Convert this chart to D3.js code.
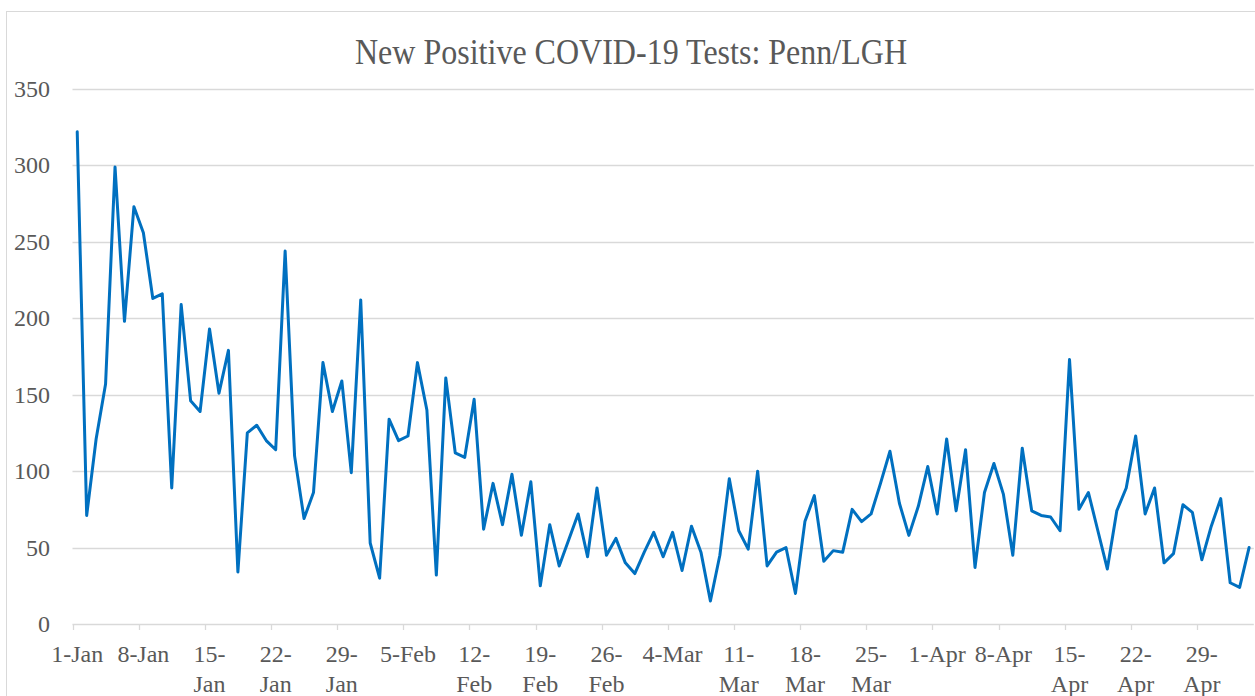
<!DOCTYPE html>
<html>
<head>
<meta charset="utf-8">
<script src="https://cdn.jsdelivr.net/npm/d3@7"></script>
<style>
  body { margin: 0; background: #fff; }
  text { font-family: "Liberation Serif", "DejaVu Serif", serif; fill: #595959; }
</style>
</head>
<body>
<script>
// daily new positive tests, 1-Jan .. 4-May
const values = [
  322, 71, 121, 157, 299, 198, 273, 256, 213, 216,
  89, 209, 146, 139, 193, 151, 179, 34, 125, 130,
  120, 114, 244, 110, 69, 86, 171, 139, 159, 99,
  212, 53, 30, 134, 120, 123, 171, 140, 32, 161,
  112, 109, 147, 62, 92, 65, 98, 58, 93, 25,
  65, 38, 55, 72, 44, 89, 45, 56, 40, 33,
  47, 60, 44, 60, 35, 64, 47, 15, 45, 95,
  61, 49, 100, 38, 47, 50, 20, 67, 84, 41,
  48, 47, 75, 67, 72, 92, 113, 79, 58, 77,
  103, 72, 121, 74, 114, 37, 86, 105, 85, 45,
  115, 74, 71, 70, 61, 173, 75, 86, 61, 36,
  74, 89, 123, 72, 89, 40, 46, 78, 73, 42,
  64, 82, 27, 24, 50
];
// one label every 7 days
const tickLabels = ["1-Jan", "8-Jan", "15-Jan", "22-Jan", "29-Jan", "5-Feb", "12-Feb", "19-Feb", "26-Feb",
  "4-Mar", "11-Mar", "18-Mar", "25-Mar", "1-Apr", "8-Apr", "15-Apr", "22-Apr", "29-Apr"];
const yTicks = [0, 50, 100, 150, 200, 250, 300, 350];
const title = "New Positive COVID-19 Tests: Penn/LGH";

const width = 1255, height = 696;
const svg = d3.select("body").append("svg").attr("width", width).attr("height", height);

// chart border
svg.append("rect").attr("x", 6.5).attr("y", 11.5).attr("width", 1300).attr("height", 800)
  .attr("fill", "none").attr("stroke", "#d9d9d9");

const x = d3.scaleBand().domain(d3.range(values.length)).range([72.5, 1253.8]).paddingInner(0);
const y = d3.scaleLinear().domain([0, 350]).range([624, 89]);
const cx = i => x(i) + x.bandwidth() / 2;

// title (squeezed a bit, the original font is narrower)
svg.append("text").attr("x", 631).attr("y", 64).attr("text-anchor", "middle")
  .attr("textLength", 552).attr("lengthAdjust", "spacingAndGlyphs")
  .style("font-size", "36px").text(title);

// gridlines
svg.selectAll(".grid").data(yTicks.filter(d => d > 0)).enter().append("line")
  .attr("x1", 72.5).attr("x2", 1253.8)
  .attr("y1", d => Math.round(y(d)) + 0.5).attr("y2", d => Math.round(y(d)) + 0.5)
  .attr("stroke", "#d9d9d9").attr("stroke-width", 1.3);

// y labels
svg.selectAll(".ylab").data(yTicks).enter().append("text")
  .attr("x", 50).attr("y", d => y(d) + 8).attr("text-anchor", "end")
  .style("font-size", "24px").text(d => d);

// x axis line
svg.append("line").attr("x1", 72.5).attr("x2", 1253.8).attr("y1", 624.5).attr("y2", 624.5)
  .attr("stroke", "#d9d9d9").attr("stroke-width", 1.3);

const tickIdx = d3.range(0, values.length, 7);
svg.selectAll(".tick").data(tickIdx).enter().append("line")
  .attr("x1", d => Math.round(x(d)) + 0.5).attr("x2", d => Math.round(x(d)) + 0.5)
  .attr("y1", 624).attr("y2", 630).attr("stroke", "#d9d9d9").attr("stroke-width", 1.3);

// x labels, long ones wrap after the hyphen
const xl = svg.selectAll(".xlab").data(tickIdx).enter().append("text")
  .attr("text-anchor", "middle").style("font-size", "24px");
xl.each(function(d, k) {
  const lab = tickLabels[k];
  const t = d3.select(this);
  if (lab.length > 5) {
    const p = lab.indexOf("-");
    t.append("tspan").attr("x", cx(d)).attr("y", 662).text(lab.slice(0, p + 1));
    t.append("tspan").attr("x", cx(d)).attr("y", 692).text(lab.slice(p + 1));
  } else {
    t.append("tspan").attr("x", cx(d)).attr("y", 662).text(lab);
  }
});

// the series
const line = d3.line().x((d, i) => cx(i)).y(d => y(d));
svg.append("path").datum(values).attr("d", line)
  .attr("fill", "none").attr("stroke", "#0070c0").attr("stroke-width", 3)
  .attr("stroke-linejoin", "round").attr("stroke-linecap", "round");
</script>
</body>
</html>
